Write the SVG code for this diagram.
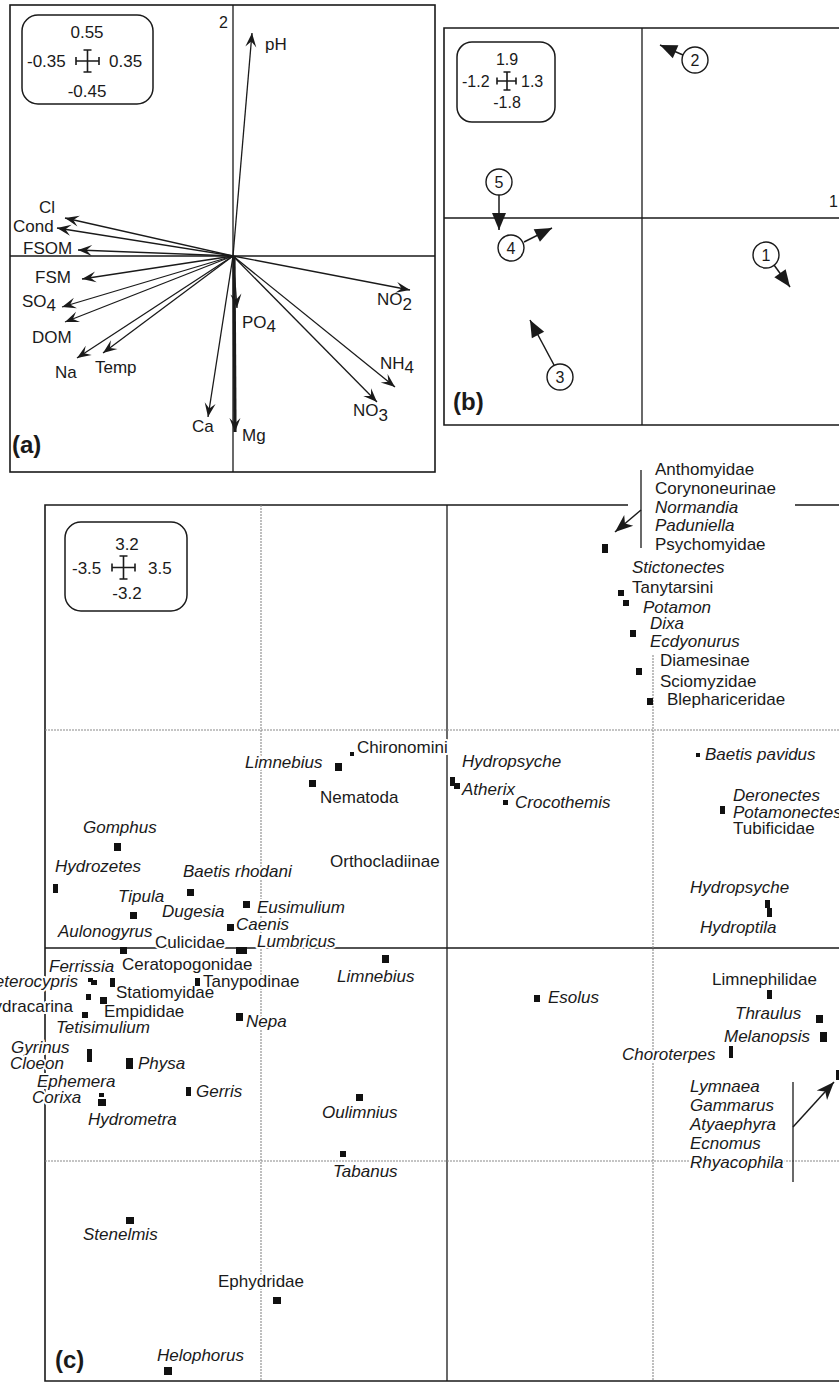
<svg xmlns="http://www.w3.org/2000/svg" width="839" height="1382" viewBox="0 0 839 1382">
<style>
.t{font-family:"Liberation Sans",Arial,sans-serif;font-size:17px;fill:#1a1a1a}
.s16{font-size:16px}
.i{font-style:italic}
.b{font-weight:bold;font-size:24px}
.mid{text-anchor:middle}
.end{text-anchor:end}
.h{stroke:#fff;stroke-width:4;stroke-linejoin:round;paint-order:stroke}
.fr{fill:none;stroke:#1a1a1a;stroke-width:1.6}
.ax{fill:none;stroke:#1a1a1a;stroke-width:1.3}
.dt{fill:none;stroke:#8a8a8a;stroke-width:1.1;stroke-dasharray:2 1}
.leg{fill:none;stroke:#1a1a1a;stroke-width:1.5}
.cr{fill:none;stroke:#1a1a1a;stroke-width:1.6}
.va{stroke:#1a1a1a;stroke-width:1.3;fill:none;marker-end:url(#ha)}
.vb{stroke:#1a1a1a;stroke-width:1.5;fill:none;marker-end:url(#hb)}
.vc{stroke:#1a1a1a;stroke-width:1.5;fill:none;marker-end:url(#hc)}
.m{fill:#111}
.circ{fill:#fff;stroke:#1a1a1a;stroke-width:1.4}
</style>
<defs>
<marker id="ha" markerUnits="userSpaceOnUse" viewBox="-16 -8 18 16" markerWidth="18" markerHeight="16" refX="0" refY="0" orient="auto"><path d="M0,0 L-14,-5.5 L-8.5,0 L-14,5.5 Z" fill="#1a1a1a"/></marker>
<marker id="hb" markerUnits="userSpaceOnUse" viewBox="-19 -9 21 18" markerWidth="21" markerHeight="18" refX="0" refY="0" orient="auto"><path d="M0,0 L-17,-7 L-17,7 Z" fill="#1a1a1a"/></marker>
<marker id="hc" markerUnits="userSpaceOnUse" viewBox="-20 -9 22 18" markerWidth="22" markerHeight="18" refX="0" refY="0" orient="auto"><path d="M0,0 L-18,-7 L-13,0 L-18,7 Z" fill="#1a1a1a"/></marker>
</defs>

<!-- Panel (a) -->
<g id="panel-a">
<rect class="fr" x="10" y="5" width="425" height="467"/>
<line class="ax" x1="233" y1="5" x2="233" y2="472"/>
<line class="ax" x1="10" y1="256" x2="435" y2="256"/>
<g id="legend-a">
<rect class="leg" x="22" y="15" width="131" height="89" rx="16"/>
<path class="cr" d="M76,61 H99 M76,57 V65 M99,57 V65 M87.5,50 V72 M83.5,50 H91.5 M83.5,72 H91.5"/>
<text class="t mid" x="87" y="38">0.55</text>
<text class="t" x="27" y="67">-0.35</text>
<text class="t" x="109" y="67">0.35</text>
<text class="t mid" x="87" y="97">-0.45</text>
</g>
<text class="t s16" x="219" y="28">2</text>
<g id="vectors-a">
<line class="va" x1="233" y1="256" x2="252" y2="33"/>
<line class="va" x1="233" y1="256" x2="65" y2="218"/>
<line class="va" x1="233" y1="256" x2="57" y2="228"/>
<line class="va" x1="233" y1="256" x2="78" y2="250"/>
<line class="va" x1="233" y1="256" x2="82" y2="279"/>
<line class="va" x1="233" y1="256" x2="62" y2="307"/>
<line class="va" x1="233" y1="256" x2="65" y2="322"/>
<line class="va" x1="233" y1="256" x2="77" y2="358"/>
<line class="va" x1="233" y1="256" x2="103" y2="353"/>
<line class="va" x1="233" y1="256" x2="208" y2="417"/>
<line class="va" x1="233" y1="256" x2="237" y2="308"/>
<line class="va" x1="233" y1="256" x2="410" y2="290"/>
<line class="va" x1="233" y1="256" x2="395" y2="387"/>
<line class="va" x1="233" y1="256" x2="377" y2="402"/>
<line class="va" style="stroke-width:3.2" x1="234" y1="256" x2="235" y2="432"/>
</g>
<text class="t" x="265" y="50">pH</text>
<text class="t" x="39" y="213">Cl</text>
<text class="t" x="13" y="232">Cond</text>
<text class="t" x="23" y="254">FSOM</text>
<text class="t" x="35" y="283">FSM</text>
<text class="t" x="22" y="307">SO<tspan dy="4">4</tspan></text>
<text class="t" x="32" y="343">DOM</text>
<text class="t" x="55" y="378">Na</text>
<text class="t" x="95" y="373">Temp</text>
<text class="t" x="192" y="432">Ca</text>
<text class="t" x="242" y="441">Mg</text>
<text class="t" x="242" y="328">PO<tspan dy="4">4</tspan></text>
<text class="t" x="377" y="305">NO<tspan dy="5">2</tspan></text>
<text class="t" x="380" y="369">NH<tspan dy="4">4</tspan></text>
<text class="t" x="353" y="416">NO<tspan dy="5">3</tspan></text>
<text class="t b" x="12" y="453">(a)</text>
</g>

<!-- Panel (b) -->
<g id="panel-b">
<path class="fr" d="M839,28 H444 V425 H839"/>
<line class="ax" x1="642" y1="28" x2="642" y2="425"/>
<line class="ax" x1="444" y1="218" x2="839" y2="218"/>
<g id="legend-b">
<rect class="leg" x="457" y="42" width="98" height="80" rx="15"/>
<path class="cr" d="M497,81 H516 M497,77.5 V84.5 M516,77.5 V84.5 M507,72 V90 M503.5,72 H510.5 M503.5,90 H510.5"/>
<text class="t s16 mid" x="507" y="65">1.9</text>
<text class="t s16" x="462" y="87">-1.2</text>
<text class="t s16" x="521" y="87">1.3</text>
<text class="t s16 mid" x="507" y="108">-1.8</text>
</g>
<text class="t s16" x="829" y="207">1</text>
<g id="vectors-b">
<line class="vb" x1="683" y1="55" x2="660" y2="45"/>
<line class="vb" x1="499" y1="195" x2="499" y2="230"/>
<line class="vb" x1="524" y1="242" x2="552" y2="228"/>
<line class="vb" x1="774" y1="265" x2="790" y2="287"/>
<line class="vb" x1="554" y1="365" x2="530" y2="320"/>
</g>
<g id="site-1"><circle class="circ" cx="766" cy="255" r="13"/><text class="t s16 mid" x="766" y="261">1</text></g>
<g id="site-2"><circle class="circ" cx="695" cy="60" r="13"/><text class="t s16 mid" x="695" y="66">2</text></g>
<g id="site-3"><circle class="circ" cx="560" cy="377" r="13"/><text class="t s16 mid" x="560" y="383">3</text></g>
<g id="site-4"><circle class="circ" cx="511" cy="248" r="13"/><text class="t s16 mid" x="511" y="254">4</text></g>
<g id="site-5"><circle class="circ" cx="499" cy="182" r="13"/><text class="t s16 mid" x="499" y="188">5</text></g>
<text class="t b" x="453" y="410">(b)</text>
</g>

<!-- Panel (c) -->
<g id="panel-c">
<g id="grid-c">
<path class="fr" d="M628,505 H45 V1381 H839 M795,505 H839"/>
<line class="ax" x1="447" y1="505" x2="447" y2="1381"/>
<line class="ax" x1="45" y1="948" x2="839" y2="948"/>
<line class="dt" x1="261" y1="505" x2="261" y2="1381"/>
<line class="dt" x1="653" y1="655" x2="653" y2="1381"/>
<line class="dt" x1="45" y1="730" x2="839" y2="730"/>
<line class="dt" x1="45" y1="1161" x2="839" y2="1161"/>
</g>
<g id="legend-c">
<rect class="leg" x="65" y="522" width="122" height="89" rx="16"/>
<path class="cr" d="M112,567.5 H135 M112,563.5 V571.5 M135,563.5 V571.5 M123.5,556 V579 M119.5,556 H127.5 M119.5,579 H127.5"/>
<text class="t mid" x="127" y="550">3.2</text>
<text class="t" x="72" y="574">-3.5</text>
<text class="t" x="148" y="574">3.5</text>
<text class="t mid" x="127" y="599">-3.2</text>
</g>
<g id="connectors-c">
<line class="ax" x1="641" y1="470" x2="641" y2="548"/>
<line class="vc" x1="641" y1="510" x2="615" y2="532"/>
<line class="ax" x1="793" y1="1082" x2="793" y2="1182"/>
<line class="vc" x1="793" y1="1127" x2="834" y2="1082"/>
</g>
<g id="labels-c">
<text class="t h" x="655" y="475">Anthomyidae</text>
<text class="t h" x="655" y="494">Corynoneurinae</text>
<text class="t h i" x="655" y="513">Normandia</text>
<text class="t h i" x="655" y="531">Paduniella</text>
<text class="t h" x="655" y="550">Psychomyidae</text>
<text class="t h i" x="632" y="573">Stictonectes</text>
<text class="t h" x="632" y="593">Tanytarsini</text>
<text class="t h i" x="643" y="613">Potamon</text>
<text class="t h i" x="650" y="629">Dixa</text>
<text class="t h i" x="650" y="647">Ecdyonurus</text>
<text class="t h" x="660" y="666">Diamesinae</text>
<text class="t h" x="660" y="687">Sciomyzidae</text>
<text class="t h" x="667" y="705">Blephariceridae</text>
<text class="t h" x="357" y="753">Chironomini</text>
<text class="t h i" x="245" y="768">Limnebius</text>
<text class="t h" x="320" y="803">Nematoda</text>
<text class="t h i" x="462" y="767">Hydropsyche</text>
<text class="t h i" x="462" y="795">Atherix</text>
<text class="t h i" x="515" y="808">Crocothemis</text>
<text class="t h i" x="705" y="760">Baetis pavidus</text>
<text class="t h i" x="733" y="801">Deronectes</text>
<text class="t h i" x="733" y="818">Potamonectes</text>
<text class="t h" x="733" y="834">Tubificidae</text>
<text class="t h i" x="83" y="833">Gomphus</text>
<text class="t h" x="330" y="867">Orthocladiinae</text>
<text class="t h i" x="55" y="872">Hydrozetes</text>
<text class="t h i" x="183" y="877">Baetis rhodani</text>
<text class="t h i" x="118" y="902">Tipula</text>
<text class="t h i" x="162" y="917">Dugesia</text>
<text class="t h i" x="257" y="913">Eusimulium</text>
<text class="t h i" x="236" y="930">Caenis</text>
<text class="t h i" x="690" y="893">Hydropsyche</text>
<text class="t h i" x="700" y="933">Hydroptila</text>
<text class="t h i" x="58" y="937">Aulonogyrus</text>
<text class="t h" x="155" y="948">Culicidae</text>
<text class="t h i" x="257" y="947">Lumbricus</text>
<text class="t h i" x="337" y="982">Limnebius</text>
<text class="t h i" x="49" y="972">Ferrissia</text>
<text class="t h" x="122" y="970">Ceratopogonidae</text>
<text class="t h i end" x="78" y="987">Heterocypris</text>
<text class="t h" x="203" y="987">Tanypodinae</text>
<text class="t h" x="116" y="998">Statiomyidae</text>
<text class="t h end" x="73" y="1012">Hydracarina</text>
<text class="t h" x="104" y="1017">Empididae</text>
<text class="t h i" x="246" y="1027">Nepa</text>
<text class="t h i" x="56" y="1033">Tetisimulium</text>
<text class="t h i" x="11" y="1053">Gyrinus</text>
<text class="t h i" x="10" y="1069">Cloeon</text>
<text class="t h i" x="138" y="1069">Physa</text>
<text class="t h i" x="37" y="1087">Ephemera</text>
<text class="t h i" x="32" y="1103">Corixa</text>
<text class="t h i" x="196" y="1097">Gerris</text>
<text class="t h i" x="88" y="1125">Hydrometra</text>
<text class="t h i" x="322" y="1118">Oulimnius</text>
<text class="t h i" x="548" y="1003">Esolus</text>
<text class="t h" x="712" y="985">Limnephilidae</text>
<text class="t h i" x="735" y="1019">Thraulus</text>
<text class="t h i" x="724" y="1042">Melanopsis</text>
<text class="t h i" x="622" y="1060">Choroterpes</text>
<text class="t h i" x="690" y="1092">Lymnaea</text>
<text class="t h i" x="690" y="1111">Gammarus</text>
<text class="t h i" x="690" y="1130">Atyaephyra</text>
<text class="t h i" x="690" y="1149">Ecnomus</text>
<text class="t h i" x="690" y="1168">Rhyacophila</text>
<text class="t h i" x="333" y="1177">Tabanus</text>
<text class="t h i" x="83" y="1240">Stenelmis</text>
<text class="t h" x="218" y="1287">Ephydridae</text>
<text class="t h i" x="157" y="1361">Helophorus</text>
</g>
<g id="points-c">
<rect class="m" x="602" y="544" width="6" height="9"/>
<rect class="m" x="618" y="590" width="6" height="6"/>
<rect class="m" x="623" y="600" width="6" height="6"/>
<rect class="m" x="630" y="630" width="6" height="7"/>
<rect class="m" x="636" y="668" width="6" height="7"/>
<rect class="m" x="647" y="698" width="6" height="7"/>
<rect class="m" x="350" y="752" width="4" height="4"/>
<rect class="m" x="335" y="763" width="7" height="8"/>
<rect class="m" x="309" y="780" width="7" height="7"/>
<rect class="m" x="450" y="777" width="5" height="9"/>
<rect class="m" x="454" y="783" width="6" height="6"/>
<rect class="m" x="503" y="800" width="5" height="5"/>
<rect class="m" x="696" y="753" width="4" height="4"/>
<rect class="m" x="720" y="806" width="5" height="8"/>
<rect class="m" x="114" y="843" width="7" height="8"/>
<rect class="m" x="53" y="884" width="5" height="9"/>
<rect class="m" x="187" y="889" width="7" height="7"/>
<rect class="m" x="130" y="912" width="7" height="7"/>
<rect class="m" x="243" y="901" width="7" height="7"/>
<rect class="m" x="227" y="924" width="7" height="7"/>
<rect class="m" x="765" y="900" width="5" height="8"/>
<rect class="m" x="767" y="908" width="5" height="9"/>
<rect class="m" x="120" y="947" width="7" height="7"/>
<rect class="m" x="236" y="947" width="11" height="7"/>
<rect class="m" x="382" y="955" width="7" height="8"/>
<rect class="m" x="88" y="978" width="5" height="4"/>
<rect class="m" x="91" y="980" width="6" height="5"/>
<rect class="m" x="110" y="978" width="5" height="9"/>
<rect class="m" x="195" y="978" width="5" height="8"/>
<rect class="m" x="86" y="994" width="5" height="6"/>
<rect class="m" x="100" y="997" width="7" height="7"/>
<rect class="m" x="82" y="1012" width="6" height="6"/>
<rect class="m" x="236" y="1013" width="7" height="8"/>
<rect class="m" x="87" y="1049" width="5" height="13"/>
<rect class="m" x="126" y="1058" width="7" height="11"/>
<rect class="m" x="186" y="1087" width="5" height="9"/>
<rect class="m" x="99" y="1093" width="5" height="4"/>
<rect class="m" x="98" y="1099" width="8" height="7"/>
<rect class="m" x="356" y="1094" width="7" height="7"/>
<rect class="m" x="340" y="1151" width="6" height="6"/>
<rect class="m" x="534" y="995" width="6" height="7"/>
<rect class="m" x="767" y="990" width="5" height="9"/>
<rect class="m" x="816" y="1015" width="7" height="8"/>
<rect class="m" x="820" y="1032" width="7" height="10"/>
<rect class="m" x="729" y="1046" width="4" height="12"/>
<rect class="m" x="836" y="1070" width="4" height="10"/>
<rect class="m" x="126" y="1217" width="8" height="7"/>
<rect class="m" x="273" y="1297" width="8" height="7"/>
<rect class="m" x="164" y="1367" width="8" height="8"/>
</g>
<text class="t b" x="55" y="1368">(c)</text>
</g>
</svg>
